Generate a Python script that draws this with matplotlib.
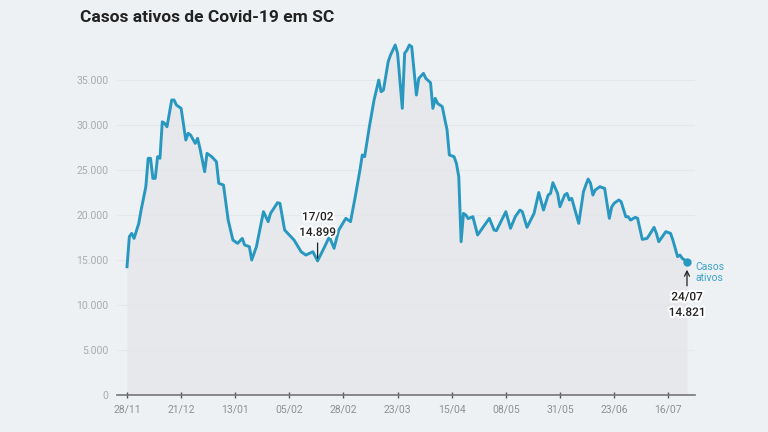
import matplotlib
matplotlib.use("Agg")
import matplotlib.pyplot as plt
import matplotlib.patheffects as pe
import numpy as np
import pandas as pd

start_date = "2020-11-28"
day_offsets = [0, 1, 2, 3, 5, 6, 8, 9, 10, 11, 12, 13, 14, 15, 16, 17, 19, 20, 21, 23,
               25, 26, 27, 29, 30, 31, 33, 34, 36, 38, 39, 41, 43, 45, 47, 49, 50, 52, 53, 55,
               58, 60, 61, 64, 65, 67, 71, 74, 76, 79, 81, 84, 86, 88, 90, 93, 95, 97, 99, 100,
               101, 103, 105, 107, 108, 109, 111, 112, 114, 115, 117, 118, 119, 120, 121, 123, 124, 126, 127, 129,
               130, 131, 132, 134, 135, 136, 137, 139, 140, 141, 142, 143, 144, 145, 147, 149, 151, 154, 156, 157,
               161, 163, 165, 167, 168, 170, 173, 175, 177, 179, 180, 181, 183, 184, 186, 187, 188, 189, 190, 192,
               194, 195, 196, 197, 198, 199, 201, 202, 203, 205, 206, 207, 209, 210, 212, 213, 214, 216, 217, 219,
               221, 222, 224, 225, 226, 228, 229, 231, 232, 234, 235, 236, 238]
active_cases = [14250, 17600, 17960, 17400, 19070, 20550, 23140, 26300, 26300, 24070, 24070, 26480, 26300, 30360, 30180, 29800, 32780, 32780, 32220, 31850,
                28330, 29080, 28890, 27960, 28520, 27410, 24810, 26850, 26480, 25920, 23520, 23330, 19440, 17220, 16850, 17400, 16670, 16480, 15000, 16480,
                20370, 19260, 20180, 21370, 21290, 18330, 17220, 15920, 15550, 15920, 14899, 16480, 17590, 16300, 18330, 19630, 19260, 22030, 25000, 26670,
                26480, 29800, 32780, 35000, 33700, 33890, 37030, 37780, 38890, 37960, 31850, 37960, 38330, 38890, 38700, 33330, 35180, 35740, 35180, 34700,
                31850, 32960, 32400, 32040, 30730, 29500, 26670, 26480, 25740, 24260, 17030, 20180, 20000, 19600, 19810, 17780, 18520, 19630, 18330, 18260,
                20370, 18520, 19810, 20550, 20370, 18630, 20180, 22500, 20550, 22220, 22400, 23590, 22400, 20920, 22220, 22400, 21670, 21850, 20920, 19070,
                22590, 23330, 24000, 23520, 22220, 22780, 23150, 23040, 22960, 19630, 20900, 21290, 21670, 21480, 19800, 19810, 19440, 19740, 19630, 17290,
                17400, 17780, 18630, 17960, 17030, 17780, 18150, 17960, 17220, 15370, 15550, 15180, 14821]
tick_labels = ["28/11", "21/12", "13/01", "05/02", "28/02", "23/03", "15/04", "08/05", "31/05", "23/06", "16/07"]
y_ticks = [0, 5000, 10000, 15000, 20000, 25000, 30000, 35000]
annot_min_date, annot_min_value = "2021-02-17", 14899
annot_end_date, annot_end_value = "2021-07-24", 14821


def fmt(v):
    return f"{v:,}".replace(",", ".")


dates = pd.to_datetime(start_date) + pd.to_timedelta(day_offsets, unit="D")
tick_dates = [pd.Timestamp(start_date) + pd.Timedelta(days=23 * i) for i in range(len(tick_labels))]

bg = "#eef1f4"
line_c = "#2898c0"
plt.rcParams['font.family'] = ['Roboto', 'DejaVu Sans']

fig = plt.figure(figsize=(7.68, 4.32), dpi=100, facecolor=bg)
ax = fig.add_axes([117 / 768, 37 / 432, (695 - 117) / 768, (395 - 39.5) / 432])
ax.set_facecolor(bg)

x0 = pd.Timestamp(start_date)
ax.set_xlim(x0 - pd.Timedelta(days=4.25), x0 + pd.Timedelta(days=241.4))
ax.set_ylim(0, 39500)

ax.fill_between(dates, active_cases, 0, color="#e6e8eb", zorder=1, linewidth=0)
ax.plot(dates, active_cases, color=line_c, lw=2.1, zorder=3, solid_joinstyle="round")

for v in y_ticks[1:]:
    ax.axhline(v, color="#e3e6ea", lw=0.8, zorder=2)

for s in ["top", "right", "left"]:
    ax.spines[s].set_visible(False)
ax.spines["bottom"].set_color("#777777")
ax.spines["bottom"].set_linewidth(1.2)

ax.set_yticks(y_ticks)
ax.set_yticklabels([fmt(v) for v in y_ticks], color="#a9abae", fontsize=7.5)
ax.tick_params(axis="y", length=0, pad=6)
ax.set_xticks(tick_dates)
ax.set_xticklabels(tick_labels, color="#8e9094", fontsize=7.5)
ax.tick_params(axis="x", length=4, width=1, color="#555555", pad=5, direction="inout")

halo = [pe.withStroke(linewidth=3, foreground="white")]

# minimum annotation
md = pd.Timestamp(annot_min_date)
ax.annotate("", xy=(md, annot_min_value), xytext=(md, annot_min_value + 2300),
            arrowprops=dict(arrowstyle="-", color="#222222", lw=0.9), zorder=5)
ax.text(md, annot_min_value + 2450, f"17/02\n{fmt(annot_min_value)}",
        ha="center", va="bottom", fontsize=8.5, color="#222222", fontweight="medium",
        linespacing=1.25, zorder=6, path_effects=halo)

# end annotation
ed = pd.Timestamp(annot_end_date)
ax.plot([ed], [annot_end_value], "o", color=line_c, ms=5, zorder=4)
ax.text(ed + pd.Timedelta(days=3.5), annot_end_value, "Casos\nativos", ha="left", va="top",
        fontsize=7.5, color="#3ba3c8", linespacing=1.2)
ax.annotate("", xy=(ed, annot_end_value - 600), xytext=(ed, annot_end_value - 3000),
            arrowprops=dict(arrowstyle="->", color="#222222", lw=0.9, mutation_scale=9))
ax.text(ed, annot_end_value - 3200, f"24/07\n{fmt(annot_end_value)}",
        ha="center", va="top", fontsize=8.5, color="#222222", fontweight="medium", linespacing=1.25,
        path_effects=halo)

fig.text(80 / 768, 1 - 18 / 432, "Casos ativos de Covid-19 em SC", fontsize=12.5,
         fontweight="bold", color="#222222", ha="left", va="center")

fig.savefig("out.png", dpi=100, facecolor=bg)
